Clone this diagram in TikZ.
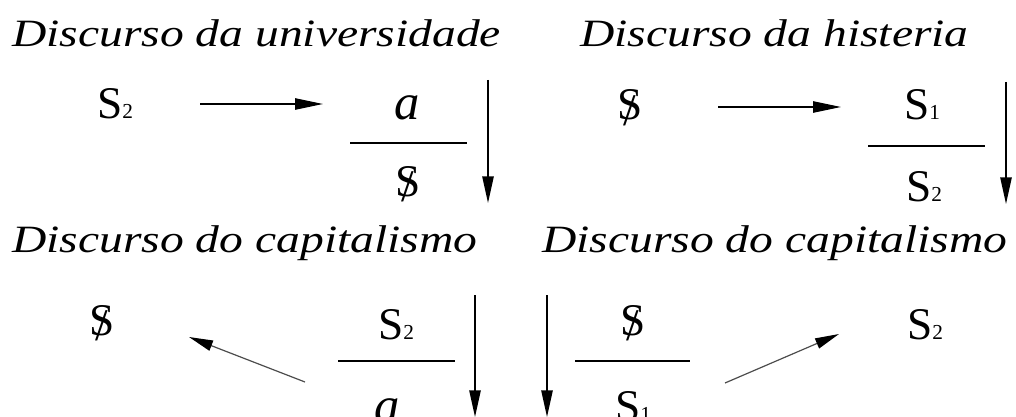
\documentclass[tikz,border=0pt]{standalone}
\usepackage{fontspec}
\IfFontExistsTF{LiberationSerif-Regular.ttf}{%
  \setmainfont{LiberationSerif}[Extension=.ttf, UprightFont=*-Regular, ItalicFont=*-Italic]
  \newfontfamily\titlefont{LiberationSerif}[Extension=.ttf, UprightFont=*-Italic, FakeStretch=1.23]
}{%
  \newfontfamily\titlefont{Latin Modern Roman}[UprightFont=* Italic, FakeStretch=1.1]
}
\usetikzlibrary{arrows.meta,positioning}

% barred subject and small index
\newcommand{\barS}{\ooalign{S\cr\hidewidth\raisebox{-.12em}{/}\hidewidth\cr}}
\newcommand{\idx}[1]{{\fontsize{16}{16}\selectfont #1}}

\tikzset{
  title/.style={font=\titlefont\fontsize{29}{30}\selectfont, anchor=base west, inner sep=0pt},
  sym/.style={font=\fontsize{34}{35}\selectfont, anchor=base, inner sep=0pt},
  obj/.style={font=\itshape\fontsize{38}{39}\selectfont, anchor=base, inner sep=0pt},
  fracbar/.style={line width=1.2pt},
  harrow/.style={line width=1.1pt, -{Triangle[length=21pt,width=8.5pt]}},
  varrow/.style={line width=1.2pt, -{Triangle[length=20pt,width=8.5pt]}},
  darrow/.style={line width=0.9pt, black!70, -{Triangle[length=18pt,width=8pt,color=black]}}
}

\begin{document}
\begin{tikzpicture}[x=0.75pt,y=-0.75pt]
  \useasboundingbox (0,0) rectangle (1016,417);

  % universidade
  \node[title] (tU) at (12,47) {Discurso da universidade};
  \node[sym] (uAgent) at (115,119) {S\idx{2}};
  \node[obj] (uOther) at (407,120) {a};
  \node[sym] (uProd) at (408,196) {\barS};
  \coordinate (uA1) at (200,104);
  \coordinate (uA2) at (323,104);
  \coordinate (uB1) at (350,143);
  \coordinate (uB2) at (467,143);
  \coordinate (uV1) at (488,80);
  \coordinate (uV2) at (488,203);
  \draw[harrow] (uA1) -- (uA2);
  \draw[fracbar] (uB1) -- (uB2);
  \draw[varrow] (uV1) -- (uV2);

  % histeria
  \node[title] (tH) at (580,47) {Discurso da histeria};
  \node[sym] (hAgent) at (630,120) {\barS};
  \node[sym] (hOther) at (922,120) {S\idx{1}};
  \node[sym] (hProd) at (924,201) {S\idx{2}};
  \coordinate (hA1) at (718,107);
  \coordinate (hA2) at (841,107);
  \coordinate (hB1) at (868,146);
  \coordinate (hB2) at (985,146);
  \coordinate (hV1) at (1006,82);
  \coordinate (hV2) at (1006,204);
  \draw[harrow] (hA1) -- (hA2);
  \draw[fracbar] (hB1) -- (hB2);
  \draw[varrow] (hV1) -- (hV2);

  % capitalismo, esquerda
  \node[title] (tC1) at (12,252) {Discurso do capitalismo};
  \node[sym] (cSubj) at (102,335) {\barS};
  \node[sym] (cMaster) at (396,339) {S\idx{2}};
  \node[obj] (cObj) at (387,422) {a};
  \coordinate (cA1) at (305,382);
  \coordinate (cA2) at (189,337);
  \coordinate (cB1) at (338,361);
  \coordinate (cB2) at (455,361);
  \coordinate (cV1) at (475,295);
  \coordinate (cV2) at (475,417);
  \draw[darrow] (cA1) -- (cA2);
  \draw[fracbar] (cB1) -- (cB2);
  \draw[varrow] (cV1) -- (cV2);

  % capitalismo, direita
  \node[title] (tC2) at (542,252) {Discurso do capitalismo};
  \node[sym] (dSubj) at (633,335) {\barS};
  \node[sym] (dMaster) at (633,421) {S\idx{1}};
  \node[sym] (dKnow) at (925,339) {S\idx{2}};
  \coordinate (dA1) at (725,383);
  \coordinate (dA2) at (839,334);
  \coordinate (dB1) at (575,361);
  \coordinate (dB2) at (690,361);
  \coordinate (dV1) at (547,295);
  \coordinate (dV2) at (547,417);
  \draw[darrow] (dA1) -- (dA2);
  \draw[fracbar] (dB1) -- (dB2);
  \draw[varrow] (dV1) -- (dV2);
\end{tikzpicture}
\end{document}
